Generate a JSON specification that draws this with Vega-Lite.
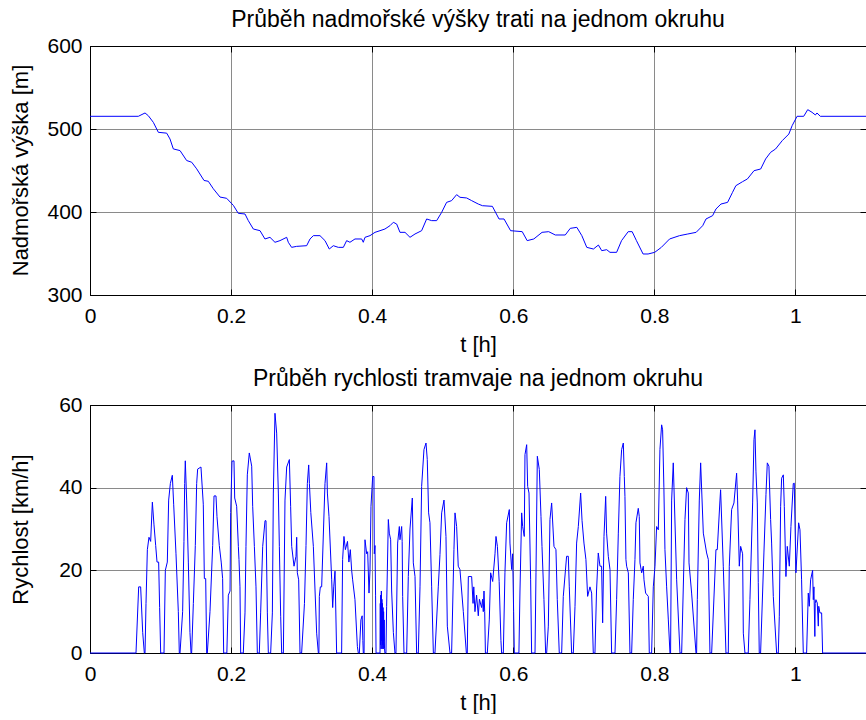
{
"$schema":"https://vega.github.io/schema/vega-lite/v6.json",
"background":"white",
"padding":{"left":8,"top":8,"right":0,"bottom":0},
"config":{
 "font":"Liberation Sans",
 "view":{"stroke":"black","strokeWidth":1},
 "title":{"fontSize":23,"fontWeight":"normal","color":"black","font":"Liberation Sans","offset":3},
 "axis":{"domainColor":"black","tickColor":"black","labelColor":"black","titleColor":"black","labelFont":"Liberation Sans","titleFont":"Liberation Sans","labelFontSize":21,"titleFontSize":22,"titleFontWeight":"normal","gridColor":"#8a8a8a","gridOpacity":1,"gridWidth":1,"tickSize":-6,"labelFlush":false,"labelOverlap":false}
},
"datasets":{
"elev":[
{"t":0,"h":515.3},{"t":0.0685,"h":515.3},{"t":0.078,"h":519.3},{"t":0.0827,"h":516},{"t":0.0898,"h":508},{"t":0.0969,"h":496},{"t":0.1087,"h":495},{"t":0.1134,"h":488},{"t":0.1181,"h":476},{"t":0.1276,"h":474},{"t":0.137,"h":462},{"t":0.1441,"h":460},{"t":0.1512,"h":452},{"t":0.1616,"h":438},{"t":0.1677,"h":437},{"t":0.1748,"h":428},{"t":0.1843,"h":418},{"t":0.1937,"h":416.5},{"t":0.2032,"h":408},{"t":0.2102,"h":398.4},{"t":0.2197,"h":397.6},{"t":0.2244,"h":389.6},{"t":0.2315,"h":379.5},{"t":0.241,"h":377.5},{"t":0.248,"h":367.5},{"t":0.2551,"h":369.5},{"t":0.2622,"h":363.5},{"t":0.2693,"h":365.5},{"t":0.2788,"h":369.5},{"t":0.2811,"h":363.5},{"t":0.2858,"h":357.4},{"t":0.2929,"h":358.6},{"t":0.3071,"h":359.4},{"t":0.3119,"h":367.5},{"t":0.3166,"h":371.5},{"t":0.326,"h":371.5},{"t":0.3331,"h":365.5},{"t":0.3392,"h":355.4},{"t":0.3449,"h":359.4},{"t":0.352,"h":357.4},{"t":0.3591,"h":357.4},{"t":0.3638,"h":365.5},{"t":0.3685,"h":363.5},{"t":0.3756,"h":367.5},{"t":0.3851,"h":367.5},{"t":0.3874,"h":363.5},{"t":0.3898,"h":369.5},{"t":0.3969,"h":371.5},{"t":0.404,"h":375.5},{"t":0.4111,"h":377.5},{"t":0.4181,"h":379.5},{"t":0.4252,"h":383.5},{"t":0.43,"h":387.6},{"t":0.4347,"h":385.5},{"t":0.4394,"h":375.5},{"t":0.4465,"h":375.5},{"t":0.4536,"h":369.5},{"t":0.4607,"h":373.5},{"t":0.4701,"h":377.5},{"t":0.4772,"h":391.6},{"t":0.4843,"h":389.6},{"t":0.4914,"h":389.6},{"t":0.4985,"h":399.6},{"t":0.5055,"h":411.6},{"t":0.5126,"h":413.7},{"t":0.5197,"h":420.9},{"t":0.5245,"h":417.7},{"t":0.5339,"h":416.9},{"t":0.541,"h":413.7},{"t":0.5504,"h":409.6},{"t":0.5563,"h":407.6},{"t":0.5704,"h":406.8},{"t":0.5798,"h":391.6},{"t":0.5869,"h":391.6},{"t":0.5962,"h":377.5},{"t":0.6127,"h":376.3},{"t":0.6197,"h":365.5},{"t":0.6291,"h":367.5},{"t":0.6408,"h":375.5},{"t":0.6502,"h":376.3},{"t":0.6596,"h":372.3},{"t":0.6737,"h":372.3},{"t":0.6808,"h":380.3},{"t":0.6901,"h":381.5},{"t":0.6972,"h":371.5},{"t":0.7042,"h":357.4},{"t":0.7136,"h":355.4},{"t":0.7207,"h":360.2},{"t":0.7254,"h":353.4},{"t":0.7324,"h":354.6},{"t":0.7371,"h":351.4},{"t":0.7465,"h":351.4},{"t":0.7535,"h":365.5},{"t":0.7629,"h":376.3},{"t":0.7685,"h":376.3},{"t":0.7746,"h":365.5},{"t":0.784,"h":349.4},{"t":0.7911,"h":349.4},{"t":0.8005,"h":351.4},{"t":0.8099,"h":357.4},{"t":0.8216,"h":367.5},{"t":0.8357,"h":371.5},{"t":0.8474,"h":373.5},{"t":0.8592,"h":375.5},{"t":0.8685,"h":383.5},{"t":0.8732,"h":391.6},{"t":0.8826,"h":395.6},{"t":0.8873,"h":403.6},{"t":0.8944,"h":409.6},{"t":0.9038,"h":411.6},{"t":0.9108,"h":423.7},{"t":0.9155,"h":431.7},{"t":0.9249,"h":436.5},{"t":0.9319,"h":439.8},{"t":0.9413,"h":449.8},{"t":0.9507,"h":451.8},{"t":0.9577,"h":463.9},{"t":0.9648,"h":471.9},{"t":0.9718,"h":475.9},{"t":0.9812,"h":485.9},{"t":0.9906,"h":493.9},{"t":0.9953,"h":504},{"t":1.0023,"h":515.3},{"t":1.0117,"h":515.3},{"t":1.0174,"h":523.3},{"t":1.0235,"h":520.1},{"t":1.0282,"h":516.9},{"t":1.0305,"h":519.3},{"t":1.0352,"h":515.3},{"t":1.1,"h":515.3}
],
"speed":[
{"t":0,"v":0},{"t":0.0652,"v":0},{"t":0.069,"v":16},{"t":0.0718,"v":16},{"t":0.0747,"v":5},{"t":0.077,"v":0},
{"t":0.078,"v":0},{"t":0.0794,"v":12},{"t":0.0813,"v":25},{"t":0.0836,"v":28},{"t":0.086,"v":27},{"t":0.0884,"v":36.5},{"t":0.0907,"v":31},{"t":0.0931,"v":26},{"t":0.095,"v":22},{"t":0.0973,"v":22},{"t":0.0987,"v":11},{"t":0.1002,"v":0},
{"t":0.1049,"v":0},{"t":0.1068,"v":20},{"t":0.1096,"v":22},{"t":0.1115,"v":37},{"t":0.1139,"v":41},{"t":0.1167,"v":43},{"t":0.1186,"v":36},{"t":0.1219,"v":24},{"t":0.1252,"v":10},{"t":0.1266,"v":0},
{"t":0.1276,"v":0},{"t":0.1313,"v":10},{"t":0.1332,"v":27},{"t":0.1342,"v":41},{"t":0.1351,"v":46.5},{"t":0.137,"v":37},{"t":0.1394,"v":22},{"t":0.1417,"v":5},{"t":0.1432,"v":0},
{"t":0.1441,"v":0},{"t":0.1465,"v":12},{"t":0.1493,"v":26},{"t":0.1512,"v":41},{"t":0.1526,"v":44.5},{"t":0.1573,"v":45},{"t":0.1606,"v":36},{"t":0.1621,"v":18},{"t":0.164,"v":18},{"t":0.1654,"v":0},
{"t":0.1663,"v":0},{"t":0.1701,"v":10},{"t":0.1739,"v":26},{"t":0.1758,"v":38},{"t":0.1786,"v":38},{"t":0.18,"v":33},{"t":0.1833,"v":26},{"t":0.186,"v":22},{"t":0.188,"v":18},{"t":0.1895,"v":0},
{"t":0.194,"v":0},{"t":0.1961,"v":14},{"t":0.1985,"v":15},{"t":0.1994,"v":34},{"t":0.2013,"v":46.4},{"t":0.2041,"v":46.5},{"t":0.2051,"v":37.5},{"t":0.2079,"v":35.5},{"t":0.2103,"v":25.8},{"t":0.2112,"v":22.6},{"t":0.2126,"v":16},{"t":0.2136,"v":0},
{"t":0.2173,"v":0},{"t":0.2197,"v":9.7},{"t":0.2211,"v":25.8},{"t":0.223,"v":43.1},{"t":0.2258,"v":48.4},{"t":0.2292,"v":45.2},{"t":0.2306,"v":35.5},{"t":0.233,"v":25.8},{"t":0.2353,"v":16},{"t":0.2372,"v":0},
{"t":0.24,"v":0},{"t":0.2419,"v":9.7},{"t":0.2448,"v":25.8},{"t":0.2481,"v":32},{"t":0.2495,"v":32},{"t":0.2514,"v":9.7},{"t":0.2528,"v":0},
{"t":0.2561,"v":0},{"t":0.2585,"v":9.7},{"t":0.2599,"v":38.7},{"t":0.2622,"v":58},{"t":0.2646,"v":53.2},{"t":0.267,"v":38.7},{"t":0.2684,"v":25.8},{"t":0.2703,"v":8.9},{"t":0.2717,"v":0},
{"t":0.2741,"v":0},{"t":0.2764,"v":37},{"t":0.2788,"v":45},{"t":0.2826,"v":46.8},{"t":0.2844,"v":35.5},{"t":0.2859,"v":25.8},{"t":0.2892,"v":21},{"t":0.292,"v":23.4},{"t":0.293,"v":28},{"t":0.2939,"v":19.4},{"t":0.2958,"v":17.7},{"t":0.2977,"v":0},
{"t":0.3,"v":0},{"t":0.304,"v":12},{"t":0.3062,"v":26},{"t":0.3081,"v":41},{"t":0.31,"v":45.5},{"t":0.311,"v":41},{"t":0.313,"v":34},{"t":0.3166,"v":25.8},{"t":0.3213,"v":4.8},{"t":0.3237,"v":0},
{"t":0.3245,"v":0},{"t":0.3251,"v":13.7},{"t":0.3265,"v":16},{"t":0.3284,"v":16},{"t":0.3331,"v":41},{"t":0.3355,"v":46},{"t":0.3365,"v":38.7},{"t":0.3388,"v":33},{"t":0.3426,"v":17.7},{"t":0.344,"v":11},{"t":0.3455,"v":16},{"t":0.3473,"v":19.8},{"t":0.3496,"v":0},
{"t":0.3567,"v":0},{"t":0.3581,"v":22.6},{"t":0.36,"v":28.2},{"t":0.362,"v":25},{"t":0.365,"v":27},{"t":0.367,"v":22},{"t":0.369,"v":25},{"t":0.3709,"v":20},{"t":0.3723,"v":17.7},{"t":0.3756,"v":12.9},{"t":0.379,"v":1.6},{"t":0.3803,"v":0},
{"t":0.3818,"v":0},{"t":0.384,"v":8},{"t":0.3858,"v":9},{"t":0.3868,"v":3},{"t":0.3874,"v":0},
{"t":0.3885,"v":0},{"t":0.389,"v":15},{"t":0.3898,"v":27.4},{"t":0.3922,"v":24},{"t":0.3936,"v":24.5},{"t":0.3955,"v":14.5},{"t":0.3969,"v":20},{"t":0.3983,"v":35.5},{"t":0.4007,"v":42.7},{"t":0.4025,"v":42.7},{"t":0.403,"v":24},{"t":0.404,"v":26},{"t":0.4048,"v":14},{"t":0.4055,"v":0},
{"t":0.4111,"v":0},{"t":0.4115,"v":12},{"t":0.4118,"v":2},{"t":0.4122,"v":14},{"t":0.4126,"v":1},{"t":0.413,"v":15},{"t":0.4134,"v":3},{"t":0.4138,"v":13},{"t":0.4142,"v":1},{"t":0.4146,"v":12},{"t":0.415,"v":2},{"t":0.4154,"v":11},{"t":0.4158,"v":1},{"t":0.4162,"v":10},{"t":0.4166,"v":3},{"t":0.417,"v":8},{"t":0.4175,"v":1},{"t":0.4181,"v":0},
{"t":0.4195,"v":0},{"t":0.4205,"v":11.3},{"t":0.4229,"v":32.3},{"t":0.4243,"v":29},{"t":0.4262,"v":27.4},{"t":0.4276,"v":15},{"t":0.43,"v":5},{"t":0.4323,"v":0},
{"t":0.4337,"v":0},{"t":0.4361,"v":26.6},{"t":0.4385,"v":30.6},{"t":0.4394,"v":27.4},{"t":0.4418,"v":30.6},{"t":0.4425,"v":27},{"t":0.4432,"v":13.7},{"t":0.4451,"v":0},
{"t":0.4489,"v":0},{"t":0.4512,"v":18.5},{"t":0.4536,"v":30},{"t":0.4569,"v":37.5},{"t":0.4583,"v":21.8},{"t":0.4607,"v":18.5},{"t":0.463,"v":0},
{"t":0.4654,"v":0},{"t":0.4678,"v":16},{"t":0.4701,"v":40.3},{"t":0.4734,"v":49.2},{"t":0.4763,"v":50.8},{"t":0.4781,"v":46.8},{"t":0.48,"v":33.9},{"t":0.4819,"v":31.5},{"t":0.4843,"v":16},{"t":0.4867,"v":0},
{"t":0.489,"v":0},{"t":0.4937,"v":16},{"t":0.4961,"v":23.8},{"t":0.4985,"v":33.9},{"t":0.5018,"v":37},{"t":0.5046,"v":28.2},{"t":0.5065,"v":6.5},{"t":0.5103,"v":0},
{"t":0.5126,"v":0},{"t":0.5159,"v":25},{"t":0.5174,"v":33.9},{"t":0.5197,"v":30.6},{"t":0.522,"v":21},{"t":0.5244,"v":20.2},{"t":0.5292,"v":10},{"t":0.5335,"v":0},
{"t":0.5348,"v":0},{"t":0.5363,"v":18.5},{"t":0.541,"v":18.5},{"t":0.543,"v":12},{"t":0.544,"v":16},{"t":0.5457,"v":10},{"t":0.548,"v":14},{"t":0.5504,"v":9},{"t":0.552,"v":13},{"t":0.5551,"v":11},{"t":0.5565,"v":13},{"t":0.5575,"v":10},{"t":0.5585,"v":15},{"t":0.5595,"v":10},{"t":0.5605,"v":0},
{"t":0.5632,"v":0},{"t":0.566,"v":8},{"t":0.5679,"v":19.4},{"t":0.5708,"v":17.3},{"t":0.5741,"v":24},{"t":0.5755,"v":28.2},{"t":0.5775,"v":25.8},{"t":0.58,"v":17.3},{"t":0.5825,"v":3},{"t":0.5835,"v":0},
{"t":0.5859,"v":0},{"t":0.5882,"v":19.4},{"t":0.5906,"v":31.5},{"t":0.5944,"v":34.7},{"t":0.5953,"v":26.6},{"t":0.5977,"v":20.2},{"t":0.5991,"v":24},{"t":0.6005,"v":10},{"t":0.6015,"v":0},
{"t":0.608,"v":0},{"t":0.6095,"v":15},{"t":0.6119,"v":33.9},{"t":0.6133,"v":30.6},{"t":0.6156,"v":28.2},{"t":0.6166,"v":48},{"t":0.619,"v":50.4},{"t":0.6204,"v":40.3},{"t":0.6223,"v":38.7},{"t":0.6246,"v":17.7},{"t":0.626,"v":0},
{"t":0.6308,"v":0},{"t":0.6322,"v":19.4},{"t":0.6341,"v":47.6},{"t":0.6369,"v":44.4},{"t":0.6393,"v":33},{"t":0.6407,"v":25.8},{"t":0.6435,"v":12.9},{"t":0.6459,"v":0},
{"t":0.6473,"v":0},{"t":0.6497,"v":6.5},{"t":0.652,"v":32.3},{"t":0.6544,"v":36.3},{"t":0.6577,"v":25.8},{"t":0.6605,"v":25},{"t":0.6624,"v":12.9},{"t":0.6652,"v":0},
{"t":0.6686,"v":0},{"t":0.6709,"v":13.7},{"t":0.6756,"v":23.4},{"t":0.678,"v":23.4},{"t":0.6794,"v":16},{"t":0.6827,"v":0},
{"t":0.6851,"v":0},{"t":0.6875,"v":11.3},{"t":0.6898,"v":26.6},{"t":0.6922,"v":30.6},{"t":0.6955,"v":38.7},{"t":0.6975,"v":32},{"t":0.7002,"v":26.6},{"t":0.703,"v":22.6},{"t":0.7054,"v":13.7},{"t":0.7087,"v":16},{"t":0.7111,"v":14.5},{"t":0.7134,"v":0},
{"t":0.7158,"v":0},{"t":0.718,"v":15},{"t":0.7205,"v":24.2},{"t":0.7229,"v":21},{"t":0.7252,"v":21},{"t":0.7267,"v":7.3},{"t":0.7286,"v":28.2},{"t":0.731,"v":37.9},{"t":0.7323,"v":29},{"t":0.7347,"v":23.4},{"t":0.7371,"v":20.2},{"t":0.7394,"v":0},
{"t":0.7442,"v":0},{"t":0.7465,"v":12.9},{"t":0.7489,"v":29},{"t":0.7512,"v":42.7},{"t":0.7536,"v":49.2},{"t":0.756,"v":50.8},{"t":0.7574,"v":42.7},{"t":0.7583,"v":37.9},{"t":0.7597,"v":22.6},{"t":0.7607,"v":21},{"t":0.7631,"v":19.4},{"t":0.7654,"v":0},
{"t":0.7678,"v":0},{"t":0.7701,"v":12.9},{"t":0.7725,"v":22.6},{"t":0.7739,"v":31.5},{"t":0.7772,"v":35},{"t":0.7786,"v":33},{"t":0.7796,"v":21.8},{"t":0.782,"v":19.4},{"t":0.7843,"v":21},{"t":0.7853,"v":17.7},{"t":0.7876,"v":14.5},{"t":0.7914,"v":13.7},{"t":0.7928,"v":0},
{"t":0.7961,"v":0},{"t":0.7985,"v":16},{"t":0.8009,"v":21},{"t":0.8032,"v":30.6},{"t":0.8056,"v":29.8},{"t":0.8079,"v":49.2},{"t":0.8103,"v":55.2},{"t":0.8117,"v":54},{"t":0.8135,"v":40},{"t":0.815,"v":25},{"t":0.8174,"v":16},{"t":0.8198,"v":8},{"t":0.8221,"v":0},
{"t":0.823,"v":0},{"t":0.8245,"v":37},{"t":0.8268,"v":46},{"t":0.8278,"v":40},{"t":0.8316,"v":17.7},{"t":0.8363,"v":0},
{"t":0.8387,"v":0},{"t":0.8434,"v":32.3},{"t":0.8457,"v":40},{"t":0.8481,"v":38.7},{"t":0.8491,"v":21.8},{"t":0.8528,"v":14.5},{"t":0.859,"v":0},
{"t":0.8599,"v":0},{"t":0.8609,"v":12.9},{"t":0.8637,"v":37},{"t":0.8656,"v":46},{"t":0.8694,"v":29},{"t":0.8741,"v":24.2},{"t":0.8765,"v":22.6},{"t":0.8788,"v":0},
{"t":0.8812,"v":0},{"t":0.8873,"v":25},{"t":0.8892,"v":25},{"t":0.893,"v":37},{"t":0.8939,"v":39.5},{"t":0.8977,"v":21},{"t":0.9015,"v":0},
{"t":0.9048,"v":0},{"t":0.9062,"v":21},{"t":0.9095,"v":34.7},{"t":0.9128,"v":36.3},{"t":0.9166,"v":43.5},{"t":0.918,"v":37},{"t":0.9204,"v":21},{"t":0.9223,"v":25.8},{"t":0.9251,"v":24},{"t":0.9261,"v":4.8},{"t":0.9284,"v":0},
{"t":0.9331,"v":0},{"t":0.9355,"v":12.9},{"t":0.9393,"v":36.3},{"t":0.9412,"v":51.6},{"t":0.9426,"v":54},{"t":0.944,"v":44},{"t":0.9459,"v":36.3},{"t":0.9473,"v":17},{"t":0.9487,"v":0},
{"t":0.9506,"v":0},{"t":0.9553,"v":24.2},{"t":0.9582,"v":38.3},{"t":0.9601,"v":46},{"t":0.9624,"v":45.2},{"t":0.9648,"v":32.3},{"t":0.9662,"v":26.6},{"t":0.9686,"v":13.7},{"t":0.9733,"v":0},
{"t":0.9757,"v":0},{"t":0.9771,"v":8.9},{"t":0.979,"v":35.5},{"t":0.9804,"v":42.3},{"t":0.9828,"v":43.1},{"t":0.9842,"v":35.5},{"t":0.9865,"v":18.5},{"t":0.9884,"v":25.8},{"t":0.9913,"v":21},{"t":0.9936,"v":30.6},{"t":0.9969,"v":41},{"t":0.9983,"v":41.1},{"t":1.0007,"v":19.4},{"t":1.0045,"v":31.5},{"t":1.0064,"v":29.8},{"t":1.0087,"v":17.7},{"t":1.0111,"v":0},
{"t":1.0158,"v":0},{"t":1.0182,"v":14.5},{"t":1.0196,"v":11.3},{"t":1.0215,"v":17.7},{"t":1.0243,"v":20},{"t":1.0253,"v":12.9},{"t":1.0262,"v":16},{"t":1.0275,"v":4},{"t":1.028,"v":12},{"t":1.029,"v":12.9},{"t":1.0309,"v":12.1},{"t":1.0324,"v":6.5},{"t":1.033,"v":11.3},{"t":1.0347,"v":9.7},{"t":1.0371,"v":9.7},{"t":1.0385,"v":0},{"t":1.1,"v":0}
]
},
"vconcat":[
{
 "width":776,"height":249,
 "title":{"text":"Průběh nadmořské výšky trati na jednom okruhu"},
 "data":{"name":"elev"},
 "layer":[
  {"mark":{"type":"line","color":"#0000ff","strokeWidth":1},
   "encoding":{
    "x":{"field":"t","type":"quantitative","scale":{"domain":[0,1.1],"nice":false,"zero":false},
         "axis":{"orient":"bottom","values":[0,0.2,0.4,0.6,0.8,1],"format":"~g","title":"t [h]","labelPadding":16,"titlePadding":8}},
    "y":{"field":"h","type":"quantitative","scale":{"domain":[300,600],"nice":false,"zero":false},
         "axis":{"orient":"left","values":[300,400,500,600],"title":"Nadmořská výška [m]","labelPadding":14,"titleX":-58,"titleY":124}}}},
  {"mark":{"type":"line","opacity":0},
   "encoding":{
    "x":{"field":"t","type":"quantitative","scale":{"domain":[0,1.1],"nice":false,"zero":false},
         "axis":{"orient":"top","values":[0,0.2,0.4,0.6,0.8,1],"labels":false,"title":null,"grid":false}},
    "y":{"field":"h","type":"quantitative","scale":{"domain":[300,600],"nice":false,"zero":false},
         "axis":{"orient":"right","values":[300,400,500,600],"labels":false,"title":null,"grid":false}}}}
 ],
 "resolve":{"axis":{"x":"independent","y":"independent"}}
},
{
 "width":776,"height":248,
 "title":{"text":"Průběh rychlosti tramvaje na jednom okruhu"},
 "data":{"name":"speed"},
 "layer":[
  {"mark":{"type":"line","color":"#0000ff","strokeWidth":1},
   "encoding":{
    "x":{"field":"t","type":"quantitative","scale":{"domain":[0,1.1],"nice":false,"zero":false},
         "axis":{"orient":"bottom","values":[0,0.2,0.4,0.6,0.8,1],"format":"~g","title":"t [h]","labelPadding":16,"titlePadding":8}},
    "y":{"field":"v","type":"quantitative","scale":{"domain":[0,60],"nice":false,"zero":false},
         "axis":{"orient":"left","values":[0,20,40,60],"title":"Rychlost [km/h]","labelPadding":14,"titleX":-58,"titleY":124}}}},
  {"mark":{"type":"line","opacity":0},
   "encoding":{
    "x":{"field":"t","type":"quantitative","scale":{"domain":[0,1.1],"nice":false,"zero":false},
         "axis":{"orient":"top","values":[0,0.2,0.4,0.6,0.8,1],"labels":false,"title":null,"grid":false}},
    "y":{"field":"v","type":"quantitative","scale":{"domain":[0,60],"nice":false,"zero":false},
         "axis":{"orient":"right","values":[0,20,40,60],"labels":false,"title":null,"grid":false}}}}
 ],
 "resolve":{"axis":{"x":"independent","y":"independent"}}
}
],
"spacing":11
}
